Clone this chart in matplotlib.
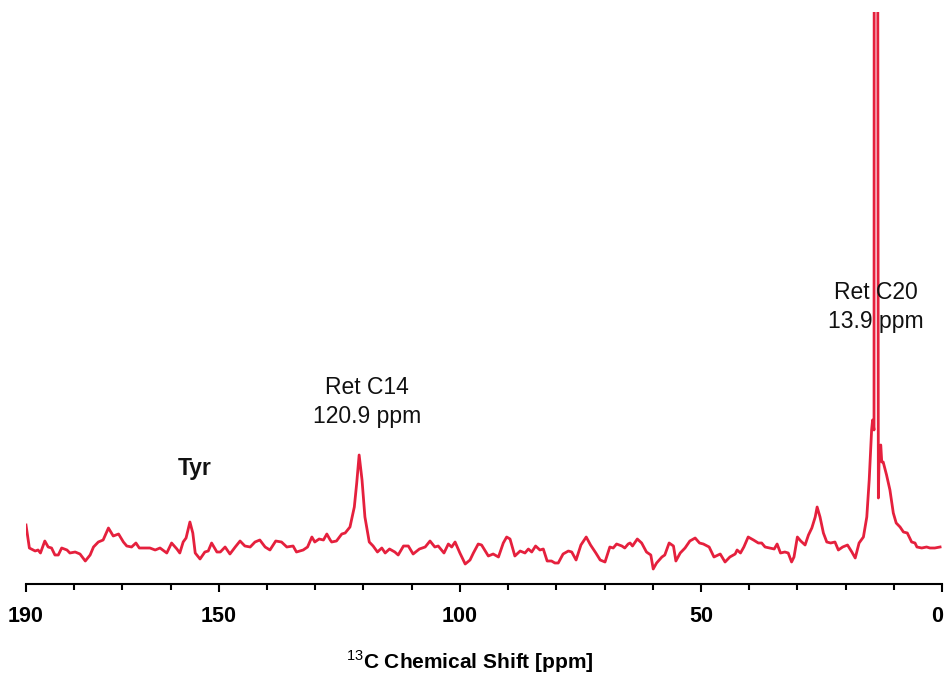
import matplotlib.pyplot as plt
from matplotlib.transforms import ScaledTranslation

plt.rcParams['font.family'] = ['Liberation Sans', 'DejaVu Sans']
plt.rcParams['mathtext.fontset'] = 'custom'
plt.rcParams['mathtext.rm'] = 'Liberation Sans'

# 13C spectrum, chemical shift (ppm) and intensity (a.u.)
shift = [
    190.0, 189.3, 188.1, 187.5, 187.0, 186.1, 185.4, 184.7, 184.0, 183.3,
    182.6, 181.5, 180.9, 179.8, 178.8, 177.7, 176.7, 176.0, 175.0, 174.0,
    172.9, 171.9, 170.8, 169.8, 169.1, 168.1, 167.2, 166.5, 165.3, 164.3,
    163.2, 162.2, 160.8, 159.8, 158.7, 158.1, 157.4, 156.8, 156.0, 155.4,
    154.9, 153.9, 152.9, 152.2, 151.5, 150.4, 149.7, 148.7, 147.7, 146.6,
    145.6, 144.6, 143.5, 142.5, 141.5, 140.4, 139.4, 138.2, 137.0, 135.9,
    134.6, 133.9, 132.5, 131.6, 130.7, 130.1, 129.2, 128.3, 127.6, 126.9,
    126.6, 125.6, 124.5, 123.8, 122.8, 121.9, 121.4, 120.9, 120.3, 119.7,
    118.8, 118.0, 117.1, 116.2, 115.5, 114.6, 113.5, 112.8, 111.7, 110.7,
    109.7, 108.4, 107.2, 106.2, 105.2, 104.5, 103.3, 102.4, 101.7, 101.0,
    100.0, 98.9, 97.9, 97.2, 96.2, 95.5, 94.1, 93.1, 92.0, 91.0,
    90.3, 89.6, 88.6, 87.5, 86.5, 85.8, 85.1, 84.3, 83.4, 82.7,
    81.9, 81.0, 80.3, 79.6, 78.6, 77.5, 76.8, 75.9, 74.9, 73.8,
    72.9, 71.8, 70.9, 69.9, 68.9, 68.2, 67.5, 66.4, 65.8, 65.1,
    64.7, 64.2, 63.2, 62.3, 61.3, 60.4, 59.9, 59.2, 58.1, 57.5,
    56.6, 55.7, 55.2, 54.3, 53.3, 52.3, 51.2, 50.3, 49.5, 48.3,
    47.3, 46.0, 45.0, 44.0, 42.9, 42.5, 41.8, 41.1, 40.2, 39.1,
    38.1, 37.4, 36.7, 35.7, 34.8, 34.2, 33.5, 32.6, 31.9, 31.2,
    30.7, 30.0, 29.3, 28.4, 27.7, 27.0, 26.3, 25.9, 25.3, 24.6,
    23.9, 23.1, 22.2, 21.5, 20.6, 19.6, 18.7, 18.0, 17.2, 16.3,
    15.6, 15.1, 14.6, 14.4, 14.1, 13.9, 13.2, 13.0, 12.7, 12.5,
    12.2, 11.5, 10.8, 10.1, 9.5, 8.7, 8.0, 7.2, 6.3, 5.6,
    5.2, 4.2, 3.2, 2.5, 1.5, 0.4,
]
intensity = [
    59, 36, 33, 34, 31, 43, 37, 36, 29, 29,
    36, 34, 31, 32, 30, 23, 29, 37, 42, 44,
    56, 48, 50, 42, 38, 37, 41, 36, 36, 36,
    34, 36, 31, 41, 35, 31, 42, 46, 62, 51,
    31, 25, 32, 33, 41, 32, 32, 37, 30, 37,
    43, 38, 37, 42, 44, 37, 34, 43, 42, 37,
    38, 32, 34, 37, 47, 42, 45, 44, 50, 44,
    42, 43, 50, 51, 57, 77, 101, 129, 104, 67,
    42, 38, 32, 36, 31, 35, 32, 29, 38, 38,
    30, 35, 37, 43, 37, 38, 31, 40, 37, 42,
    31, 20, 24, 31, 40, 39, 28, 30, 27, 41,
    47, 45, 28, 33, 31, 35, 32, 38, 34, 35,
    23, 23, 21, 21, 30, 33, 32, 24, 39, 47,
    39, 31, 24, 22, 37, 36, 40, 38, 36, 40,
    41, 38, 45, 41, 32, 29, 15, 21, 27, 29,
    41, 38, 23, 31, 36, 43, 46, 41, 40, 37,
    27, 30, 22, 27, 30, 34, 31, 37, 47, 44,
    41, 41, 37, 36, 35, 40, 31, 32, 31, 22,
    27, 47, 43, 39, 49, 56, 67, 77, 67, 51,
    42, 41, 42, 34, 37, 39, 32, 26, 41, 47,
    67, 104, 154, 164, 154, 3000, 86, 137, 139, 122,
    122, 109, 94, 71, 61, 57, 52, 51, 42, 41,
    37, 36, 37, 36, 36, 37,
]

# peak annotations: (text, shift, intensity, weight)
labels = ['Tyr', 'Ret C14\n120.9 ppm', 'Ret C20\n13.9 ppm']
label_x = [155.0, 119.3, 13.7]
label_y = [116, 182, 277]
label_weight = ['bold', 'normal', 'normal']

fig = plt.figure(figsize=(9.46, 6.73), dpi=100)
ax = fig.add_axes([26 / 946, 89 / 673, 916 / 946, 572 / 673])

ax.plot(shift, intensity, color='#e5203d', lw=2.0, solid_joinstyle='round')

for txt, x, y, w in zip(labels, label_x, label_y, label_weight):
    ax.text(x, y, txt, ha='center', va='center', fontsize=16.5,
            fontweight=w, linespacing=1.3, color='#111111')

ax.set_xlim(190, 0)
ax.set_ylim(0, 572)

for side in ['top', 'right', 'left']:
    ax.spines[side].set_visible(False)
ax.spines['bottom'].set_linewidth(1.5)
ax.set_yticks([])

ax.set_xticks([190, 150, 100, 50, 0])
ax.set_xticks(range(0, 191, 10), minor=True)
ax.tick_params(axis='x', which='major', length=6, width=1.5, pad=10,
               labelsize=15.5)
ax.tick_params(axis='x', which='minor', length=4, width=1.5)
ticklabels = ax.get_xticklabels()
for lab in ticklabels:
    lab.set_fontweight('bold')
# keep the "0" inside the figure edge
ticklabels[-1].set_transform(ticklabels[-1].get_transform() +
                             ScaledTranslation(-5 / 100, 0, fig.dpi_scale_trans))

ax.set_xlabel('$^{13}$C Chemical Shift [ppm]', fontsize=15, fontweight='bold')
ax.xaxis.set_label_coords(0.485, -0.112)

fig.savefig('out.png', dpi=100)
